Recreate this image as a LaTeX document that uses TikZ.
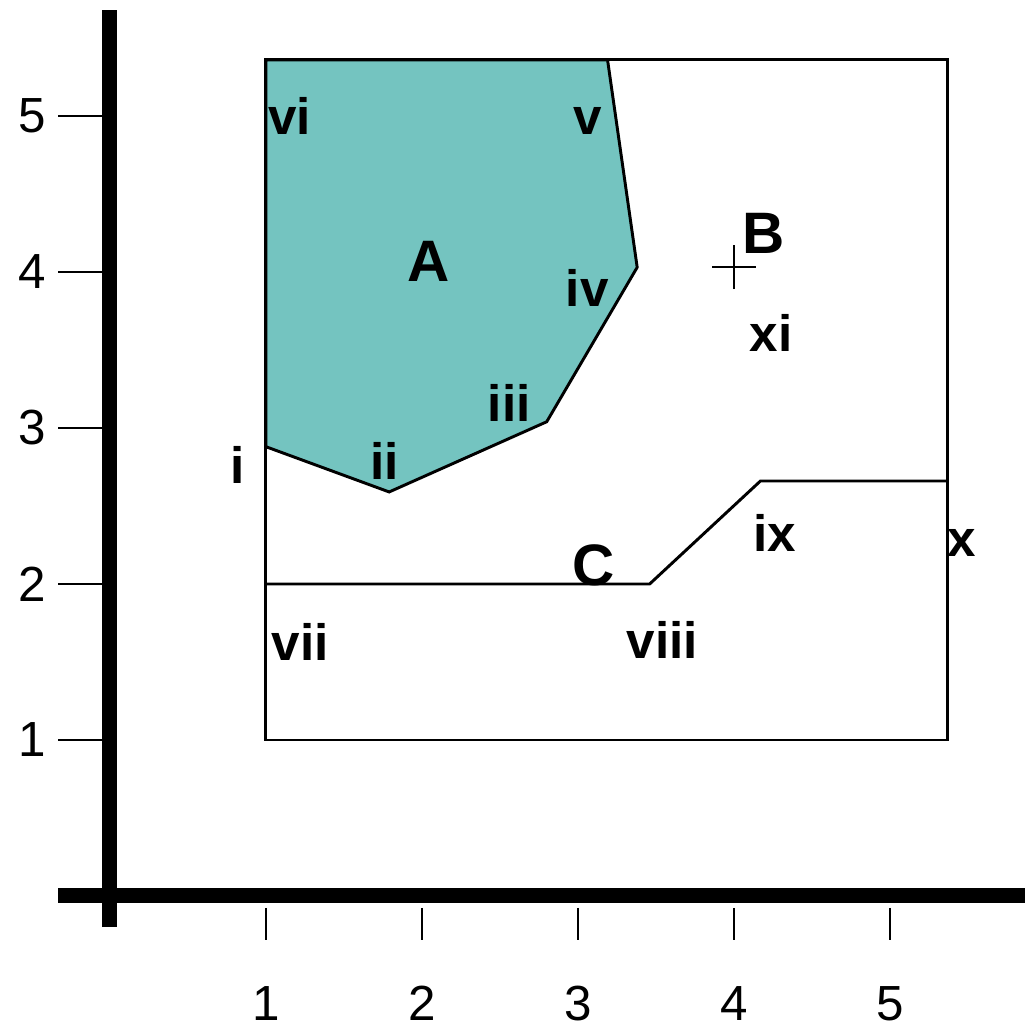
\documentclass[tikz,border=0pt]{standalone}
\usepackage{fontspec}
\setmainfont{Liberation Sans}
\setsansfont{Liberation Sans}
\usetikzlibrary{positioning}
\definecolor{regionA}{RGB}{116,196,192}

\begin{document}
\begin{tikzpicture}[x=1.5cm,y=1.5cm,
  lbl/.style={font=\fontsize{14}{16}\selectfont\bfseries,inner sep=0pt},
  biglbl/.style={font=\fontsize{16}{18}\selectfont\bfseries,inner sep=0pt},
  num/.style={font=\fontsize{13.5}{16}\selectfont,inner sep=0pt}]
\useasboundingbox (-0.705,-0.853) rectangle (5.865,5.744);
% axes
\draw[line width=4.1pt] (-0.333,0) -- (5.865,0);
\draw[line width=4.1pt] (0,-0.2) -- (0,5.68);
\foreach \xx in {1,...,5}
  {\draw[line width=0.7pt] (\xx,-0.077) -- (\xx,-0.282);
   \node[num] (xt\xx) at (\xx,-0.69) {\xx};}
\foreach \yy in {1,...,5}
  {\draw[line width=0.7pt] (-0.333,\yy) -- (0,\yy);
   \node[num] (yt\yy) at (-0.5,\yy) {\yy};}
% region A (shaded)
\draw[fill=regionA,line width=0.8pt] (1,5.36) -- (3.19,5.36) -- (3.38,4.03)
  -- (2.80,3.04) -- (1.79,2.59) -- (1,2.88) -- cycle;
% outer box
\draw[line width=0.8pt] (1,1) rectangle (5.37,5.36);
% boundary C
\draw[line width=0.8pt] (1,2.0) -- (3.46,2.0) -- (4.17,2.66) -- (5.37,2.66);
% point B
\draw[line width=0.6pt] (3.86,4.03) -- (4.14,4.03) (4,3.89) -- (4,4.17);
% labels
\node[biglbl] (A) at (2.04,4.07) {A};
\node[biglbl] (B) at (4.19,4.25) {B};
\node[biglbl] (C) at (3.10,2.12) {C};
\node[lbl] (i) at (0.82,2.76) {i};
\node[lbl] (ii) at (1.76,2.79) {ii};
\node[lbl] (iii) at (2.56,3.16) {iii};
\node[lbl] (iv) at (3.06,3.90) {iv};
\node[lbl] (v) at (3.06,4.97) {v};
\node[lbl] (vi) at (1.15,5.0) {vi};
\node[lbl] (vii) at (1.22,1.63) {vii};
\node[lbl] (viii) at (3.54,1.64) {viii};
\node[lbl] (ix) at (4.26,2.33) {ix};
\node[lbl] (x) at (5.46,2.26) {x};
\node[lbl] (xi) at (4.24,3.61) {xi};
\end{tikzpicture}
\end{document}
